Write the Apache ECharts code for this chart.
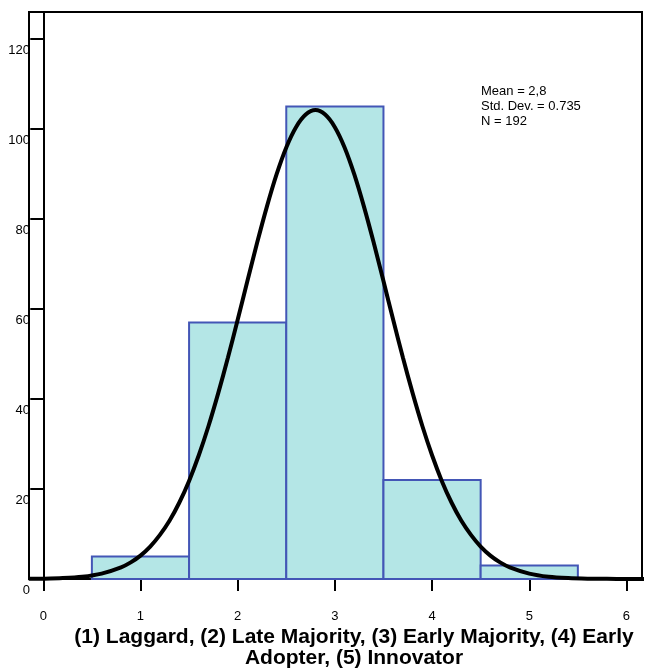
<!DOCTYPE html>
<html>
<head>
<meta charset="utf-8">
<script src="https://cdn.jsdelivr.net/npm/echarts@6/dist/echarts.min.js"></script>
<style>
  html, body { margin: 0; padding: 0; background: #fff; }
  #chart { width: 649px; height: 670px; }
</style>
</head>
<body>
<div id="chart"></div>
<script>
// histogram bins (centre, count)
const binCenters = [1, 2, 3, 4, 5];
const binCounts = [5, 57, 105, 22, 3];

// normal curve
const curveX = [-0.15, 0, 0.2, 0.4, 0.6, 0.8, 0.9, 1.0, 1.1, 1.2, 1.3, 1.4, 1.5, 1.6, 1.7, 1.8, 1.9,
                2.0, 2.1, 2.2, 2.3, 2.4, 2.5, 2.6, 2.7, 2.8, 2.9, 3.0, 3.1, 3.2, 3.3, 3.4, 3.5, 3.6,
                3.7, 3.8, 3.9, 4.0, 4.1, 4.2, 4.3, 4.4, 4.5, 4.6, 4.7, 4.8, 5.0, 5.2, 5.4, 5.6, 5.8, 6.0, 6.23];
const curveY = [0.03, 0.07, 0.2, 0.5, 1.2, 2.6, 3.7, 5.2, 7.2, 9.8, 13.0, 17.0, 21.8, 27.5, 34.0, 41.3, 49.2,
                57.6, 66.2, 74.7, 82.7, 89.9, 95.9, 100.4, 103.2, 104.2, 103.2, 100.4, 95.9, 89.9, 82.7, 74.7, 66.2, 57.6,
                49.2, 41.3, 34.0, 27.5, 21.8, 17.0, 13.0, 9.8, 7.2, 5.2, 3.7, 2.6, 1.2, 0.5, 0.2, 0.07, 0.03, 0.01, 0];

const xTicks = [0, 1, 2, 3, 4, 5, 6];
const yTicks = [0, 20, 40, 60, 80, 100, 120];

const statsText = 'Mean = 2,8\nStd. Dev. = 0.735\nN = 192';
const xTitle = '(1) Laggard, (2) Late Majority, (3) Early Majority, (4) Early\nAdopter, (5) Innovator';

const font = 'Liberation Sans, Arial, sans-serif';

let chart = echarts.init(document.getElementById('chart'));

let option = {
    animation: false,
    title: {
        text: xTitle, left: 354, top: 627, textAlign: 'center', padding: 0,
        textStyle: { fontFamily: font, fontSize: 21, fontWeight: 'bold', color: '#000', lineHeight: 21 }
    },
    graphic: [{
        type: 'text', left: 481, top: 84,
        style: { text: statsText, font: '13px ' + font, lineHeight: 15, fill: '#000' }
    }],
    grid: {
        left: 29, right: 7, top: 12, bottom: 91,
        outerBoundsMode: 'none',
        show: true, borderColor: '#000', borderWidth: 2
    },
    xAxis: {
        type: 'value', min: -0.147, max: 6.16,
        splitLine: { show: false },
        axisLine: { onZero: true, lineStyle: { color: '#000', width: 2 } },
        axisTick: { customValues: xTicks, length: 12, lineStyle: { color: '#000', width: 2 } },
        axisLabel: { customValues: xTicks, margin: 31, fontFamily: font, fontSize: 13, color: '#000' }
    },
    yAxis: {
        type: 'value', min: 0, max: 126,
        splitLine: { show: false },
        axisLine: { onZero: true, lineStyle: { color: '#000', width: 2 } },
        axisTick: { customValues: yTicks, length: 13, lineStyle: { color: '#000', width: 2 } },
        axisLabel: { customValues: yTicks, margin: -1, verticalAlign: 'top', padding: [5, 0, 0, 0],
                     fontFamily: font, fontSize: 13, color: '#000' }
    },
    series: [
        {
            type: 'custom',
            data: binCenters.map((c, i) => [c, binCounts[i]]),
            renderItem: function (params, api) {
                let x = api.value(0), y = api.value(1);
                let p0 = api.coord([x - 0.5, y]);
                let p1 = api.coord([x + 0.5, 0]);
                return {
                    type: 'rect',
                    shape: { x: p0[0], y: p0[1], width: p1[0] - p0[0], height: p1[1] - p0[1] },
                    style: { fill: '#b4e6e6', stroke: '#4356b6', lineWidth: 2 }
                };
            }
        },
        {
            type: 'line',
            data: curveX.map((x, i) => [x, curveY[i]]),
            smooth: 0.3,
            showSymbol: false,
            clip: false,
            lineStyle: { color: '#000', width: 4 }
        }
    ]
};

chart.setOption(option);
</script>
</body>
</html>
